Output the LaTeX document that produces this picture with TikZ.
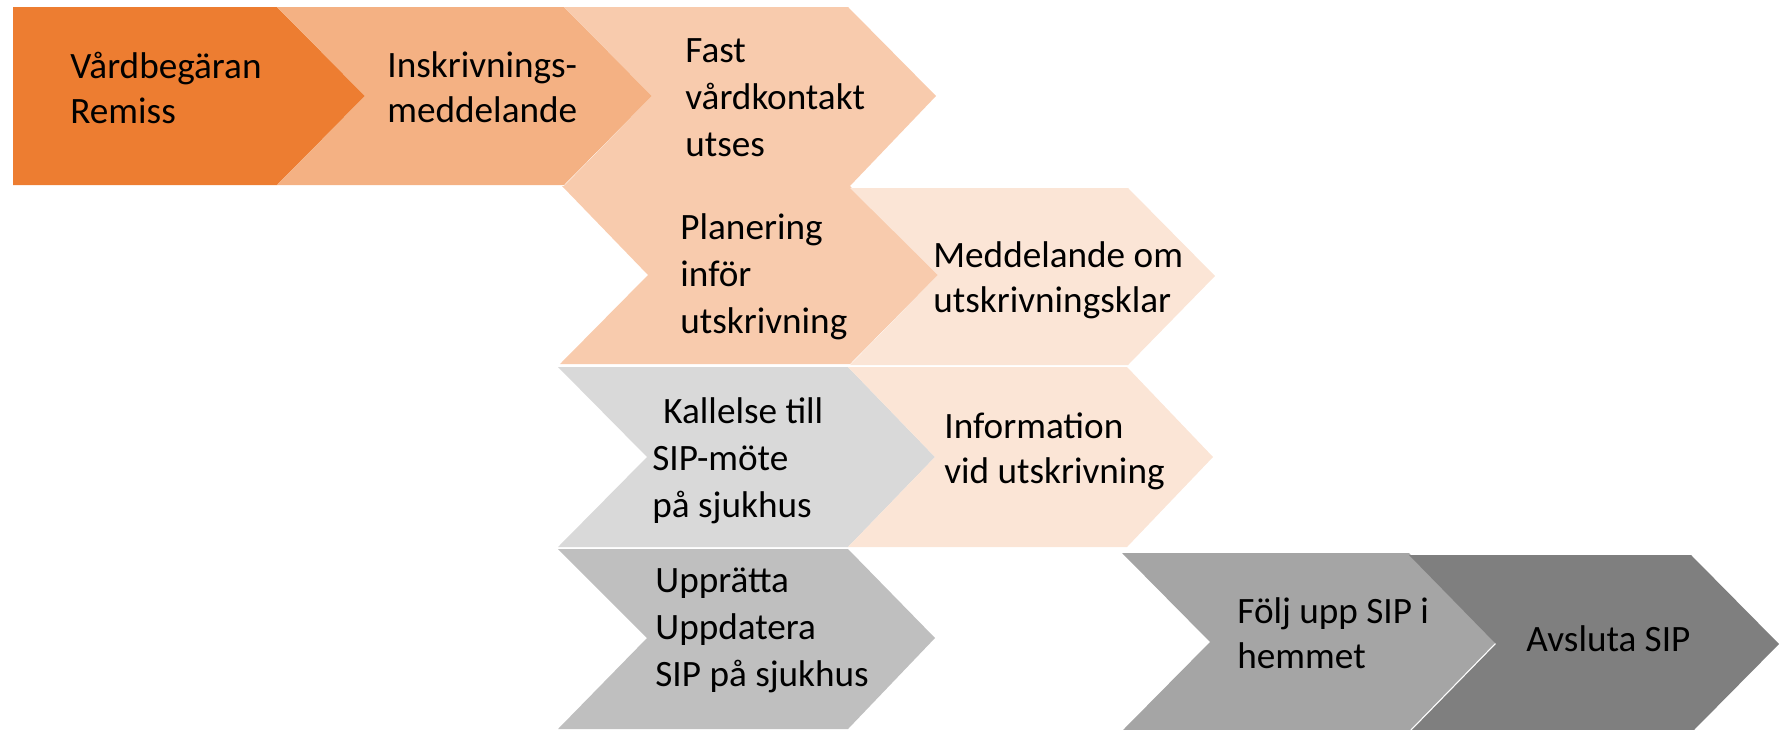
\documentclass[tikz,border=0pt]{standalone}
\usepackage{fontspec}
\setmainfont{Carlito}
\definecolor{cA}{HTML}{ED7D31}
\definecolor{cB}{HTML}{F4B183}
\definecolor{cC}{HTML}{F8CBAD}
\definecolor{cE}{HTML}{FBE5D6}
\definecolor{cF}{HTML}{D9D9D9}
\definecolor{cH}{HTML}{BFBFBF}
\definecolor{cI}{HTML}{A5A5A5}
\definecolor{cJ}{HTML}{7F7F7F}
\newcommand{\lines}[1]{\begin{tabular}[t]{@{}l@{}}#1\end{tabular}}
\tikzset{
  txt/.style={anchor=base west, inner sep=0pt, text=black, font=\fontsize{18.6}{23.5}\selectfont},
  txtn/.style={anchor=base west, inner sep=0pt, text=black, font=\fontsize{18.6}{22.5}\selectfont}
}
\begin{document}
\begin{tikzpicture}[x=0.5pt,y=-0.5pt]
\useasboundingbox (0,0) rectangle (1786,729);
% row 1
\fill[cA] (13,7) -- (277,7) -- (365,96) -- (277,185) -- (13,185) -- cycle;
\fill[cB] (277,7) -- (564,7) -- (652,96) -- (564,185) -- (277,185) -- (365,96) -- cycle;
\fill[cC] (564,7) -- (848,7) -- (936,96) -- (849,187) -- (563,187) -- (652,96) -- cycle;
% row 2
\fill[cC] (562,186) -- (850,186) -- (938,275) -- (850,364) -- (560,364) -- (648,275) -- cycle;
\fill[cE] (850,188) -- (1128,188) -- (1215,276) -- (1128,365) -- (850,365) -- (938,275) -- cycle;
% row 3
\fill[cF] (558,367) -- (848,367) -- (935,457) -- (848,547) -- (558,547) -- (647,457) -- cycle;
\fill[cE] (848,367) -- (1127,367) -- (1213,457) -- (1127,547) -- (848,547) -- (935,457) -- cycle;
% row 4
\fill[cH] (558,549) -- (848,549) -- (935,638) -- (848,729) -- (558,729) -- (647,638) -- cycle;
\fill[cI] (1122,553) -- (1409,553) -- (1496,642) -- (1409,731) -- (1122,731) -- (1210,642) -- cycle;
\fill[cJ] (1409,555) -- (1691,555) -- (1779,644) -- (1691,733) -- (1409,733) -- (1496,644) -- cycle;
% texts
\node[txtn] (tA) at (70,78) {\lines{Vårdbegäran\\Remiss}};
\node[txtn] (tB) at (387,77) {\lines{Inskrivnings-\\meddelande}};
\node[txt] (tC) at (685,62) {\lines{Fast\\vårdkontakt\\utses}};
\node[txt] (tD) at (680,239) {\lines{Planering\\inför\\utskrivning}};
\node[txtn] (tE) at (933,267) {\lines{Meddelande om\\utskrivningsklar}};
\node[txt] (tF) at (652,423) {\lines{\hspace{5.5pt}Kallelse till\\SIP-möte\\på sjukhus}};
\node[txtn] (tG) at (944,438) {\lines{Information\\vid utskrivning}};
\node[txt] (tH) at (655,592) {\lines{Upprätta\\Uppdatera\\SIP på sjukhus}};
\node[txtn] (tI) at (1237,623) {\lines{Följ upp SIP i\\hemmet}};
\node[txtn] (tJ) at (1526,651) {\lines{Avsluta SIP}};
\end{tikzpicture}
\end{document}
